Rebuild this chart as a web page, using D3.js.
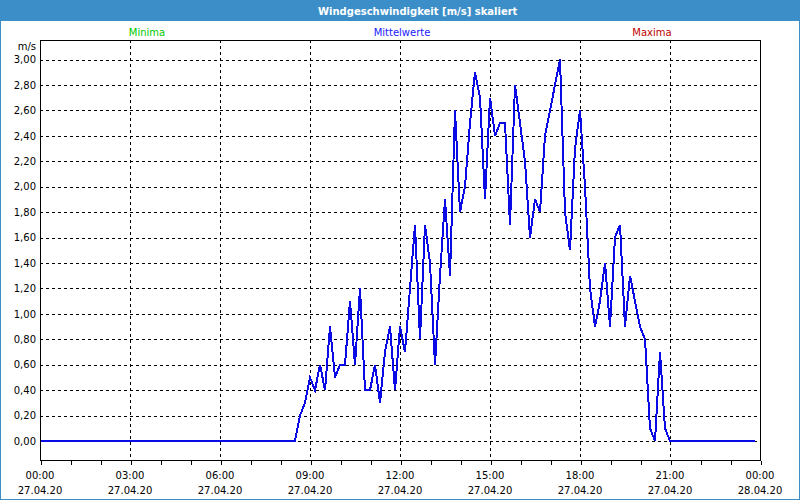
<!DOCTYPE html>
<html><head><meta charset="utf-8">
<script src="https://cdn.jsdelivr.net/npm/d3@7"></script>
<style>
body{margin:0;background:#fff}
svg{display:block}
text{font-family:"DejaVu Sans",Verdana,sans-serif}
</style>
</head><body><svg id="c" width="800" height="500"></svg>
<script>
// ---------- data ----------
const chartTitle = "Windgeschwindigkeit [m/s] skaliert";
const legendLabels = ["Minima", "Mittelwerte", "Maxima"];
const legendColors = ["#00c800", "#2020ff", "#c00000"];
const unitLabel = "m/s";
const startTime = new Date(2020, 3, 27, 0, 0);   // 27.04.20 00:00
const endTime = new Date(2020, 3, 28, 0, 0);     // 28.04.20 00:00
const intervalMinutes = 10;
// Mittelwerte, one value every 10 minutes from 00:00 to 23:50
const values = [
  0,0,0,0,0,0, 0,0,0,0,0,0, 0,0,0,0,0,0, 0,0,0,0,0,0,   // 00:00-03:50
  0,0,0,0,0,0, 0,0,0,0,0,0, 0,0,0,0,0,0, 0,0,0,0,0,0,   // 04:00-07:50
  0,0,0,                                              // 08:00-08:20
  0, 0.2, 0.3,                                        // 08:30-08:50
  0.5, 0.4, 0.6, 0.4, 0.9, 0.5,                       // 09:00
  0.6, 0.6, 1.1, 0.6, 1.2, 0.4,                       // 10:00
  0.4, 0.6, 0.3, 0.7, 0.9, 0.4,                       // 11:00
  0.9, 0.7, 1.2, 1.7, 0.8, 1.7,                       // 12:00
  1.4, 0.6, 1.3, 1.9, 1.3, 2.6,                       // 13:00
  1.8, 2.0, 2.5, 2.9, 2.7, 1.9,                       // 14:00
  2.7, 2.4, 2.5, 2.5, 1.7, 2.8,                       // 15:00
  2.5, 2.2, 1.6, 1.9, 1.8, 2.4,                       // 16:00
  2.6, 2.8, 3.0, 1.8, 1.5, 2.3,                       // 17:00
  2.6, 2.0, 1.2, 0.9, 1.1, 1.4,                       // 18:00
  0.9, 1.6, 1.7, 0.9, 1.3, 1.1,                       // 19:00
  0.9, 0.8, 0.1, 0.0, 0.7, 0.1,                       // 20:00
  0, 0,0,0,0,0, 0,0,0,0,0,0, 0,0,0,0,0,0              // 21:00-23:50
];
const yTickValues = [0,0.2,0.4,0.6,0.8,1.0,1.2,1.4,1.6,1.8,2.0,2.2,2.4,2.6,2.8,3.0];
const majorTickHours = 3;
const minorTickHours = 1;

// ---------- layout ----------
const W = 800, H = 500;
const plot = {left: 40, top: 40, right: 760, bottom: 460};
const svg = d3.select("#c");

const x = d3.scaleTime().domain([startTime, endTime]).range([plot.left, plot.right]);
const y = d3.scaleLinear().domain([0, 3]).range([441, 59.5]);

const de = d3.formatLocale({decimal: ",", thousands: ".", grouping: [3], currency: ["", " €"]});
const fmtY = de.format(".2f");
const fmtTime = d3.timeFormat("%H:%M");
const fmtDate = d3.timeFormat("%d.%m.%y");

// background + border
svg.append("rect").attr("x", 0).attr("y", 0).attr("width", W).attr("height", H).attr("fill", "#fff");
svg.append("rect").attr("x", 0.5).attr("y", 0.5).attr("width", W - 1).attr("height", H - 1)
  .attr("fill", "none").attr("stroke", "#3c8ec8").attr("stroke-width", 1);
// title bar
svg.append("rect").attr("x", 0).attr("y", 0).attr("width", W).attr("height", 21).attr("fill", "#3c8ec8");
svg.append("text").attr("x", 318).attr("y", 14.5).attr("fill", "#fff")
  .attr("font-size", 10).attr("font-weight", "bold").text(chartTitle);

// legend
const legendX = [147, 402, 652];
svg.selectAll("text.leg").data(legendLabels).join("text").attr("class", "leg")
  .attr("x", (d, i) => legendX[i]).attr("y", 36).attr("text-anchor", "middle")
  .attr("font-size", 10).attr("fill", (d, i) => legendColors[i]).text(d => d);

// horizontal grid
const crisp = v => Math.round(v) + 0.5;
svg.append("g").selectAll("line").data(yTickValues).join("line")
  .attr("x1", plot.left).attr("x2", plot.right)
  .attr("y1", d => crisp(y(d))).attr("y2", d => crisp(y(d)))
  .attr("stroke", "#000").attr("stroke-dasharray", "3,3").attr("shape-rendering", "crispEdges");

// vertical grid at major ticks
const majorTicks = d3.timeHour.every(majorTickHours).range(startTime, new Date(+endTime + 1));
const minorTicks = d3.timeHour.every(minorTickHours).range(startTime, new Date(+endTime + 1));
svg.append("g").selectAll("line").data(majorTicks.slice(1, -1)).join("line")
  .attr("x1", d => crisp(x(d))).attr("x2", d => crisp(x(d)))
  .attr("y1", plot.top).attr("y2", plot.bottom)
  .attr("stroke", "#000").attr("stroke-dasharray", "3,3").attr("shape-rendering", "crispEdges");

// minor ticks (axis)
const xAxis = d3.axisBottom(x).tickValues(minorTicks).tickSize(4).tickFormat("");
const gx = svg.append("g").attr("transform", `translate(0.5,${plot.bottom + 0.5})`).call(xAxis);
gx.select(".domain").remove();
gx.selectAll("line").attr("stroke", "#000").attr("shape-rendering", "crispEdges");

// x labels
const xl = svg.append("g");
xl.selectAll("text.t").data(majorTicks).join("text").attr("class", "t")
  .attr("x", d => x(d)).attr("y", 478.5).attr("text-anchor", "middle")
  .attr("font-size", 10).attr("fill", "#000").text(d => fmtTime(d));
xl.selectAll("text.d").data(majorTicks).join("text").attr("class", "d")
  .attr("x", d => x(d)).attr("y", 494).attr("text-anchor", "middle")
  .attr("font-size", 10).attr("fill", "#000").text(d => fmtDate(d));

// y labels
const yAxis = d3.axisLeft(y).tickValues(yTickValues).tickSize(0).tickPadding(4).tickFormat(fmtY);
const gy = svg.append("g").attr("transform", `translate(${plot.left},0)`).call(yAxis);
gy.select(".domain").remove();
gy.selectAll("text").attr("font-size", 10).attr("fill", "#000").attr("font-family", "DejaVu Sans,Verdana,sans-serif");
svg.append("text").attr("x", 36).attr("y", 50).attr("text-anchor", "end")
  .attr("font-size", 10).attr("fill", "#000").text(unitLabel);

// data line
const pts = values.map((v, i) => ({t: d3.timeMinute.offset(startTime, i * intervalMinutes), v}));
const line = d3.line().x(d => x(d.t)).y(d => y(d.v));
svg.append("path").datum(pts).attr("d", line)
  .attr("fill", "none").attr("stroke", "#0a0ae6").attr("stroke-width", 2)
  .attr("stroke-linejoin", "miter").attr("shape-rendering", "crispEdges");

// frame
svg.append("rect").attr("x", plot.left + 0.5).attr("y", plot.top + 0.5)
  .attr("width", plot.right - plot.left).attr("height", plot.bottom - plot.top)
  .attr("fill", "none").attr("stroke", "#000").attr("shape-rendering", "crispEdges");
</script>
</body></html>
